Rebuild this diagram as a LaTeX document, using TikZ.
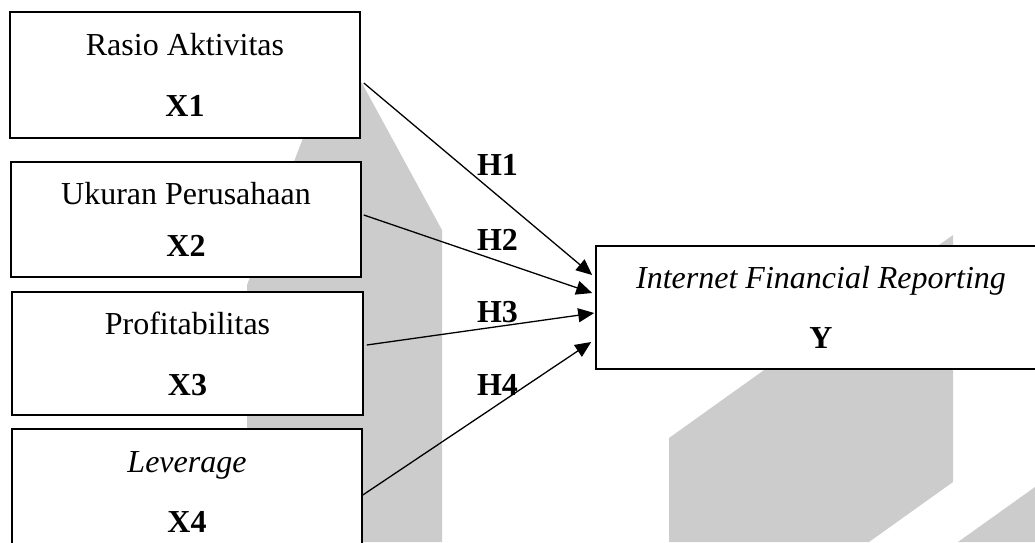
\documentclass[tikz,border=0pt]{standalone}
\usepackage{fontspec}
\setmainfont{Liberation Serif}
\usetikzlibrary{arrows.meta}
\definecolor{wmgrey}{HTML}{CCCCCC}
\tikzset{
  varbox/.style={draw, fill=white, line width=0.8pt, inner sep=0pt, align=center},
  hyp/.style={font=\fontsize{16}{19.5}\selectfont\bfseries},
  link/.style={-{Triangle[length=8pt,width=7pt]}, line width=0.65pt}
}
\begin{document}
\begin{tikzpicture}[x=0.5pt,y=-0.5pt,font=\fontsize{16}{19.5}\selectfont]
\clip (0,0) rectangle (1035,542);
\fill[wmgrey] (338,40) -- (303,138) -- (247,285) -- (247,542) -- (442,542) -- (442,230) -- (363,85) -- cycle;
\fill[wmgrey] (669,542) -- (669,438) -- (953,235) -- (953,482) -- (869,542) -- cycle;
\fill[wmgrey] (958,542) -- (1035,487) -- (1035,542) -- cycle;
\node[varbox,minimum width=175pt,minimum height=63pt] (x1) at (185,75) {Rasio Aktivitas\\[11pt]\textbf{X1}};
\node[varbox,minimum width=175pt,minimum height=57.5pt] (x2) at (186,219.5) {Ukuran Perusahaan\\[6.5pt]\textbf{X2}};
\node[varbox,minimum width=175.5pt,minimum height=61.5pt] (x3) at (187.5,353.5) {Profitabilitas\\[11pt]\textbf{X3}};
\node[varbox,minimum width=175pt,minimum height=63pt] (x4) at (187,492) {\textit{Leverage}\\[10.5pt]\textbf{X4}};
\node[varbox,minimum width=225pt,minimum height=61.5pt] (y) at (821,307.5) {\textit{Internet Financial Reporting}\\[10.5pt]\textbf{Y}};
\draw[link] ([xshift=1.5pt,yshift=-4pt]x1.east) -- ([xshift=-1.5pt,yshift=16.25pt]y.west);
\draw[link] ([xshift=1pt,yshift=2.25pt]x2.east) -- ([xshift=-1.5pt,yshift=7.25pt]y.west);
\draw[link] ([xshift=1.5pt,yshift=4.25pt]x3.east) -- ([xshift=-0.5pt,yshift=-2.75pt]y.west);
\draw[link] ([yshift=-1.5pt]x4.east) -- ([xshift=-2pt,yshift=-17.25pt]y.west);
\node[hyp] (h1) at (497.5,165) {H1};
\node[hyp] (h2) at (497.5,240) {H2};
\node[hyp] (h3) at (497.5,312) {H3};
\node[hyp] (h4) at (497.5,385) {H4};
\end{tikzpicture}
\end{document}
